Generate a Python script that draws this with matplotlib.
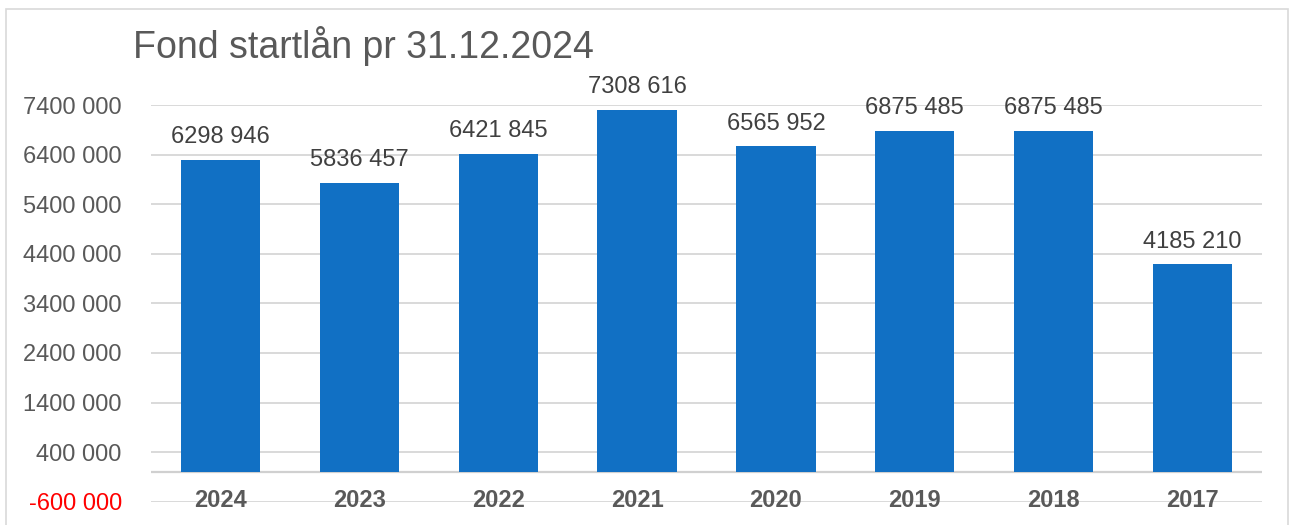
import matplotlib
matplotlib.use("Agg")
import matplotlib.pyplot as plt
from matplotlib.patches import Rectangle
from matplotlib.ticker import FixedLocator

years = ["2024", "2023", "2022", "2021", "2020", "2019", "2018", "2017"]
values = [6298946, 5836457, 6421845, 7308616, 6565952, 6875485, 6875485, 4185210]
yticks = [-600000, 400000, 1400000, 2400000, 3400000, 4400000, 5400000, 6400000, 7400000]
title = "Fond startlån pr 31.12.2024"

def fmt(v):
    s = f"{abs(int(v)):,}".replace(",", " ")
    parts = s.split(" ")
    if len(parts) > 2:
        s = "".join(parts[:-1]) + " " + parts[-1]
    return ("-" if v < 0 else "") + s

plt.rcParams['font.family'] = ['Liberation Sans', 'DejaVu Sans']

W, H = 1290, 525
fig = plt.figure(figsize=(W / 100, H / 100), dpi=100)
fig.patch.set_facecolor("white")

fig.patches.append(Rectangle((6 / W, -0.05), (1288 - 6) / W, 1.05 - 9 / H,
                             transform=fig.transFigure, fill=False,
                             edgecolor="#D9D9D9", linewidth=1.2))

left, right = 151 / W, 1262 / W
bottom, top = (H - 501.7) / H, (H - 105) / H
ax = fig.add_axes([left, bottom, right - left, top - bottom])

x = list(range(len(years)))
bars = ax.bar(x, values, width=0.57, color="#1170C4", zorder=3)
ax.set_xlim(-0.5, len(years) - 0.5)
ax.set_ylim(yticks[0], yticks[-1])

for s in ax.spines.values():
    s.set_visible(False)

ax.yaxis.set_major_locator(FixedLocator(yticks))
ax.set_yticklabels([fmt(v) for v in yticks])
ax.tick_params(axis="y", length=0, pad=21, labelsize=17, labelcolor="#595959")
for lbl, v in zip(ax.get_yticklabels(), yticks):
    if v < 0:
        lbl.set_color("#FF0000")
ax.grid(axis="y", color="#D9D9D9", linewidth=1.4, zorder=0)
ax.axhline(0, color="#D0D0D0", linewidth=1.6, zorder=2)

ax.set_xticks([])
for xi, yr in zip(x, years):
    ax.annotate(yr, (xi, yticks[0]), xytext=(0, 2.5), textcoords="offset points",
                ha="center", va="center_baseline",
                fontsize=17, fontweight="bold", color="#595959", zorder=4,
                annotation_clip=False)

for b, v in zip(bars, values):
    ax.annotate(fmt(v), (b.get_x() + b.get_width() / 2, v),
                xytext=(0, 8.5), textcoords="offset points",
                ha="center", va="bottom", fontsize=17, color="#404040",
                annotation_clip=False)

fig.text(133 / W, 1 - 58 / H, title, ha="left", va="baseline",
         fontsize=27, color="#595959")

fig.savefig("out.png", dpi=100)
